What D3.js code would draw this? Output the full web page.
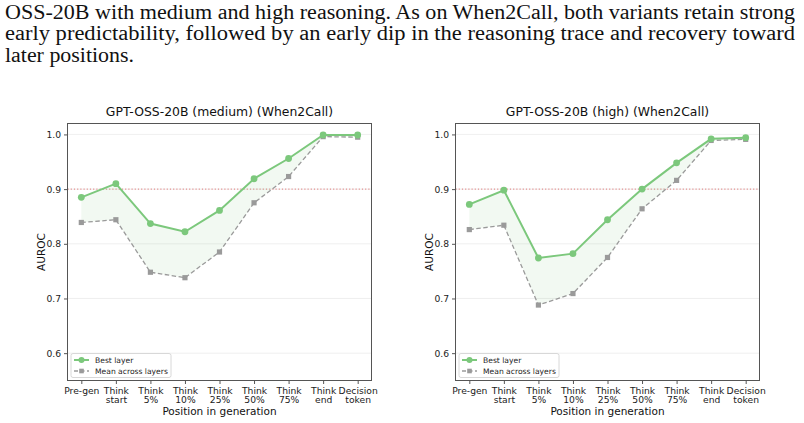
<!DOCTYPE html>
<html>
<head>
<meta charset="utf-8">
<script src="https://cdn.jsdelivr.net/npm/d3@7"></script>
<style>
  body { margin: 0; background: #fff; }
  svg { display: block; }
</style>
</head>
<body>
<div id="chart"></div>
<script>
/* DATA */
const positions = ["Pre-gen", "Think\nstart", "Think\n5%", "Think\n10%", "Think\n25%", "Think\n50%", "Think\n75%", "Think\nend", "Decision\ntoken"];
const yTicks = [0.6, 0.7, 0.8, 0.9, 1.0];

const mediumBest = [0.885, 0.910, 0.837, 0.822, 0.861, 0.919, 0.956, 0.999, 0.999];
const mediumMean = [0.839, 0.844, 0.748, 0.738, 0.785, 0.875, 0.923, 0.996, 0.995];
const highBest = [0.872, 0.898, 0.774, 0.782, 0.844, 0.900, 0.948, 0.992, 0.994];
const highMean = [0.826, 0.834, 0.688, 0.709, 0.775, 0.864, 0.916, 0.989, 0.991];

const bodyLines = [
  "OSS-20B with medium and high reasoning. As on When2Call, both variants retain strong",
  "early predictability, followed by an early dip in the reasoning trace and recovery toward",
  "later positions."
];

/* CONSTANTS */
const width = 804, height = 423;
const green = "#7cc87c", gray = "#9a9a9a";
const panels = [
  { title: "GPT-OSS-20B (medium) (When2Call)", best: mediumBest, mean: mediumMean, x0: 67.5, x1: 371.5 },
  { title: "GPT-OSS-20B (high) (When2Call)", best: highBest, mean: highMean, x0: 455.5, x1: 759.5 }
];
const plotTop = 123.5, plotBottom = 380.5;

const svg = d3.select("#chart").append("svg")
  .attr("width", width)
  .attr("height", height);

// paper text above the figure
svg.append("g")
  .selectAll("text")
  .data(bodyLines)
  .join("text")
  .attr("x", 5)
  .attr("y", (d, i) => 18.5 + i * 21.7)
  .attr("font-family", "'Liberation Serif', 'DejaVu Serif', serif")
  .attr("font-size", 20)
  .attr("fill", "#111")
  .attr("textLength", (d, i) => i < 2 ? 790 : 129)
  .attr("lengthAdjust", "spacingAndGlyphs")
  .text(d => d);

const font = "'DejaVu Sans', sans-serif";

panels.forEach(p => {
  const x = d3.scaleLinear().domain([-0.4, 8.4]).range([p.x0, p.x1]);
  const y = d3.scaleLinear().domain([0.55, 1.02]).range([plotBottom, plotTop]);
  const g = svg.append("g");

  // grid
  g.selectAll(".grid")
    .data(yTicks)
    .join("line")
    .attr("x1", p.x0).attr("x2", p.x1)
    .attr("y1", d => y(d)).attr("y2", d => y(d))
    .attr("stroke", "#ebebeb")
    .attr("stroke-width", 0.8);

  // 0.9 reference line
  g.append("line")
    .attr("x1", p.x0).attr("x2", p.x1)
    .attr("y1", y(0.9)).attr("y2", y(0.9))
    .attr("stroke", "#e07a7a")
    .attr("stroke-width", 1)
    .attr("stroke-dasharray", "1.2,2");

  // shaded gap between best and mean
  const area = d3.area()
    .x((d, i) => x(i))
    .y0((d, i) => y(p.mean[i]))
    .y1(d => y(d));
  g.append("path")
    .datum(p.best)
    .attr("d", area)
    .attr("fill", green)
    .attr("fill-opacity", 0.1);

  const line = d3.line().x((d, i) => x(i)).y(d => y(d));

  // mean across layers
  g.append("path")
    .datum(p.mean)
    .attr("d", line)
    .attr("fill", "none")
    .attr("stroke", gray)
    .attr("stroke-width", 1.3)
    .attr("stroke-dasharray", "4.5,2.5");
  g.selectAll(".sq")
    .data(p.mean)
    .join("rect")
    .attr("x", (d, i) => x(i) - 2.6)
    .attr("y", d => y(d) - 2.6)
    .attr("width", 5.2).attr("height", 5.2)
    .attr("fill", gray);

  // best layer
  g.append("path")
    .datum(p.best)
    .attr("d", line)
    .attr("fill", "none")
    .attr("stroke", green)
    .attr("stroke-width", 2);
  g.selectAll(".dot")
    .data(p.best)
    .join("circle")
    .attr("cx", (d, i) => x(i))
    .attr("cy", d => y(d))
    .attr("r", 3.4)
    .attr("fill", green);

  // axes frame
  g.append("rect")
    .attr("x", p.x0).attr("y", plotTop)
    .attr("width", p.x1 - p.x0).attr("height", plotBottom - plotTop)
    .attr("fill", "none")
    .attr("stroke", "#555")
    .attr("stroke-width", 1);

  // y axis
  const yAxis = g.append("g")
    .attr("transform", `translate(${p.x0},0)`)
    .call(d3.axisLeft(y).tickValues(yTicks).tickFormat(d3.format(".1f")).tickSize(3.5).tickPadding(3));
  yAxis.select(".domain").remove();
  yAxis.selectAll("line").attr("stroke", "#555");
  yAxis.selectAll("text").attr("font-family", font).attr("font-size", 9.2).attr("fill", "#222");

  // x axis
  const xAxis = g.append("g")
    .attr("transform", `translate(0,${plotBottom})`)
    .call(d3.axisBottom(x).tickValues(d3.range(positions.length)).tickFormat("").tickSize(3.5));
  xAxis.select(".domain").remove();
  xAxis.selectAll("line").attr("stroke", "#555");
  xAxis.selectAll(".tick").each(function(d) {
    const t = d3.select(this).append("text")
      .attr("font-family", font)
      .attr("font-size", 9.2)
      .attr("fill", "#222")
      .attr("text-anchor", "middle");
    positions[d].split("\n").forEach((s, k) => {
      t.append("tspan").attr("x", 0).attr("y", 13 + k * 9.6).text(s);
    });
  });

  // titles and labels
  const cx = (p.x0 + p.x1) / 2;
  g.append("text")
    .attr("x", cx).attr("y", 116)
    .attr("text-anchor", "middle")
    .attr("font-family", font).attr("font-size", 12.4).attr("fill", "#111")
    .text(p.title);
  g.append("text")
    .attr("x", cx).attr("y", 415)
    .attr("text-anchor", "middle")
    .attr("font-family", font).attr("font-size", 10.5).attr("fill", "#111")
    .text("Position in generation");
  g.append("text")
    .attr("transform", `translate(${p.x0 - 23},${(plotTop + plotBottom) / 2}) rotate(-90)`)
    .attr("text-anchor", "middle")
    .attr("font-family", font).attr("font-size", 10.5).attr("fill", "#111")
    .text("AUROC");

  // legend
  const lg = g.append("g").attr("transform", `translate(${p.x0 + 3.5},${353.5})`);
  lg.append("rect")
    .attr("width", 100).attr("height", 24)
    .attr("rx", 2)
    .attr("fill", "#fff").attr("fill-opacity", 0.85)
    .attr("stroke", "#d8d8d8");
  lg.append("line").attr("x1", 3).attr("x2", 18).attr("y1", 6.5).attr("y2", 6.5)
    .attr("stroke", green).attr("stroke-width", 2);
  lg.append("circle").attr("cx", 10.5).attr("cy", 6.5).attr("r", 3).attr("fill", green);
  lg.append("line").attr("x1", 3).attr("x2", 18).attr("y1", 17.5).attr("y2", 17.5)
    .attr("stroke", gray).attr("stroke-width", 1.3).attr("stroke-dasharray", "4,2.5");
  lg.append("rect").attr("x", 8.2).attr("y", 15.2).attr("width", 4.6).attr("height", 4.6).attr("fill", gray);
  lg.append("text").attr("x", 24).attr("y", 9.3)
    .attr("font-family", font).attr("font-size", 7.6).attr("fill", "#222")
    .text("Best layer");
  lg.append("text").attr("x", 24).attr("y", 20.3)
    .attr("font-family", font).attr("font-size", 7.6).attr("fill", "#222")
    .text("Mean across layers");
});
</script>
</body>
</html>
